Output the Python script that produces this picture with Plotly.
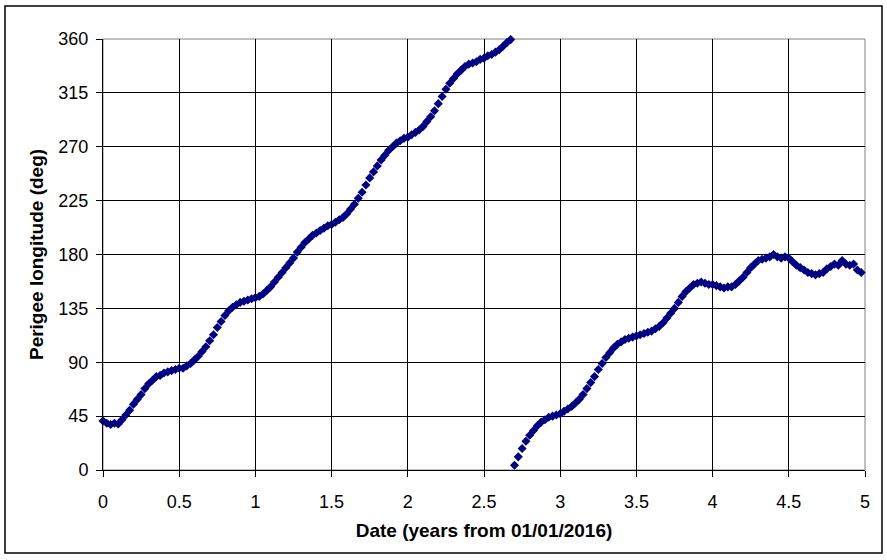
import numpy as np
import plotly.graph_objects as go

STEP = 0.025

# first pass 0 -> 360 deg, starting 01/01/2016
lon_pass1 = [
    41, 39, 38, 39, 38.5, 42, 46, 50, 55, 59,
    63, 68, 72, 75, 78, 79, 81, 82, 83, 84,
    85, 85, 87, 89, 92, 95, 99, 103, 108, 113,
    119, 124, 129, 133, 136, 138, 140, 141, 142, 143,
    144, 145, 147, 150, 153, 157, 161, 165, 169, 173,
    177, 182, 186, 190, 193, 196, 198, 200, 202, 204,
    205, 207, 209, 211, 214, 218, 222, 227, 232, 238,
    244, 249, 254, 259, 263, 267, 270, 273, 275, 277,
    278, 280, 282, 284, 287, 291, 295, 300, 306, 312,
    318, 323, 327, 331, 334, 337, 339, 340, 341, 343,
    344, 346, 347, 349, 351, 354, 357, 359.5,
]

# second pass after wrap-around, starting 2.70 yr
lon_pass2 = [
    4, 11, 18, 24, 29, 33, 37, 40, 42, 44,
    45, 46, 47, 49, 51, 53, 56, 59, 63, 68,
    73, 78, 84, 89, 94, 98, 102, 105, 107, 109,
    110, 111, 112, 113, 114, 115, 116, 118, 120, 123,
    127, 131, 135, 140, 145, 149, 152, 155, 156, 157,
    156, 155, 155, 154, 153, 152, 153, 153, 155, 158,
    161, 165, 169, 172, 175, 176, 177, 178, 180, 178,
    177, 178, 177, 174, 171, 169, 167, 165, 164, 163,
    164, 165, 168, 170, 172, 171, 175, 172, 171, 172,
    167, 165,
]
PASS2_START = 2.70

x_ticks = [0, 0.5, 1, 1.5, 2, 2.5, 3, 3.5, 4, 4.5, 5]
y_ticks = [0, 45, 90, 135, 180, 225, 270, 315, 360]

years1 = np.arange(len(lon_pass1)) * STEP
years2 = PASS2_START + np.arange(len(lon_pass2)) * STEP

FONT = "Liberation Sans, Arial, sans-serif"
NAVY = "#000080"

fig = go.Figure()
for xs, ys in [(years1, lon_pass1), (years2, lon_pass2)]:
    fig.add_trace(
        go.Scatter(
            x=xs,
            y=ys,
            mode="markers",
            marker=dict(symbol="diamond", size=7, color=NAVY, line=dict(width=0)),
            showlegend=False,
            cliponaxis=False,
        )
    )

# plot area border (gray), outer chart border (black)
fig.add_shape(type="rect", xref="paper", yref="paper", x0=0, x1=1, y0=0, y1=1,
              line=dict(color="#808080", width=1), layer="below")
fig.add_shape(type="rect", xref="paper", yref="paper",
              x0=-0.1286, x1=1.0223, y0=-0.1926, y1=1.0766,
              line=dict(color="black", width=1.5))

axis_common = dict(
    showgrid=True,
    gridcolor="black",
    gridwidth=1,
    zeroline=False,
    showline=True,
    linecolor="black",
    linewidth=1,
    ticks="outside",
    ticklen=6,
    tickcolor="black",
    tickfont=dict(family=FONT, size=18, color="black"),
)

fig.update_xaxes(
    range=[0, 5],
    tickvals=x_ticks,
    ticktext=[f"{v:g}" for v in x_ticks],
    ticklabelstandoff=9,
    title=dict(text="<b>Date (years from 01/01/2016)</b>",
               font=dict(family=FONT, size=19, color="black"), standoff=13),
    **axis_common,
)
fig.update_yaxes(
    range=[0, 360],
    tickvals=y_ticks,
    ticklabelstandoff=4,
    title=dict(text="<b>Perigee longitude (deg)</b>",
               font=dict(family=FONT, size=19, color="black"), standoff=9),
    **axis_common,
)

fig.update_layout(
    width=887,
    height=560,
    margin=dict(l=103, r=22, t=39, b=90, autoexpand=False),
    plot_bgcolor="white",
    paper_bgcolor="white",
)

fig.write_html(
    "out.html",
    config={"displayModeBar": False},
    post_script="document.body.style.margin='0';document.body.style.overflow='hidden';",
)
